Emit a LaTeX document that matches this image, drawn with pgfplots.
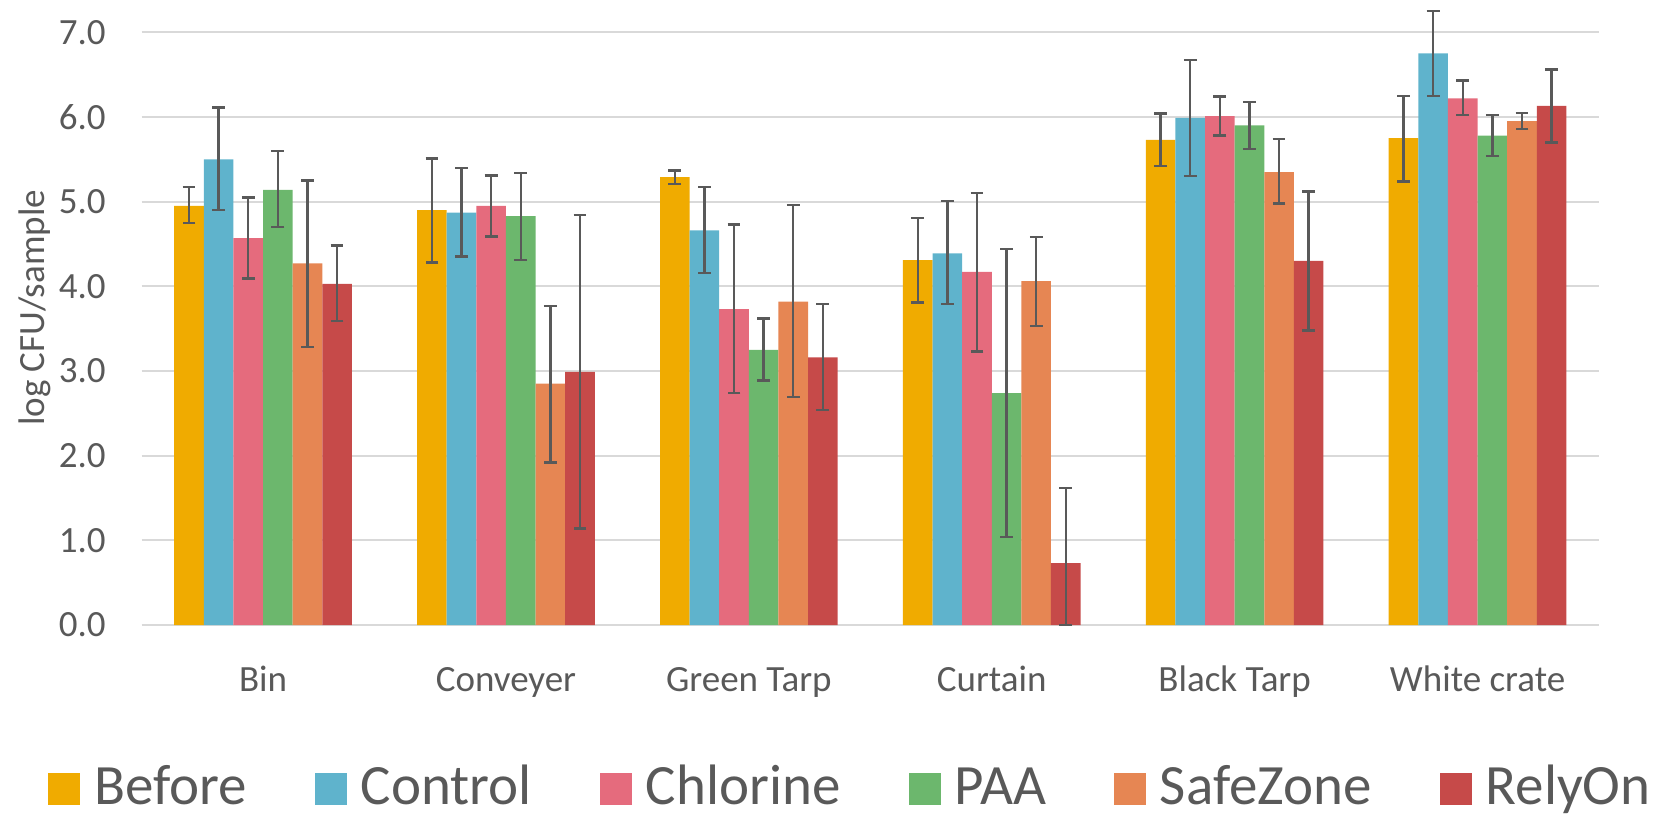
\documentclass[border=0pt]{standalone}
\usepackage{fontspec}
\setmainfont{Carlito}
\usepackage{pgfplots}
\usepackage{pgfplotstable}
\pgfplotsset{compat=1.18}
\definecolor{cBefore}{RGB}{240,171,0}
\definecolor{cControl}{RGB}{95,179,204}
\definecolor{cChlorine}{RGB}{229,107,125}
\definecolor{cPAA}{RGB}{108,183,109}
\definecolor{cSafeZone}{RGB}{230,134,83}
\definecolor{cRelyOn}{RGB}{198,74,73}
\definecolor{txtgray}{RGB}{89,89,89}
\definecolor{gridgray}{RGB}{217,217,217}
\definecolor{errgray}{RGB}{89,89,89}

\pgfplotstableread{
x y ep em
0 4.95 0.22 0.20
1 4.90 0.61 0.62
2 5.29 0.08 0.08
3 4.31 0.50 0.50
4 5.73 0.31 0.31
5 5.75 0.50 0.51
}\tBefore
\pgfplotstableread{
x y ep em
0 5.50 0.61 0.60
1 4.87 0.53 0.52
2 4.66 0.51 0.50
3 4.39 0.62 0.60
4 5.99 0.68 0.69
5 6.75 0.50 0.50
}\tControl
\pgfplotstableread{
x y ep em
0 4.57 0.48 0.48
1 4.95 0.36 0.36
2 3.73 1.00 0.99
3 4.17 0.93 0.94
4 6.01 0.23 0.23
5 6.22 0.21 0.20
}\tChlorine
\pgfplotstableread{
x y ep em
0 5.14 0.46 0.44
1 4.83 0.51 0.52
2 3.25 0.37 0.36
3 2.74 1.70 1.70
4 5.90 0.28 0.28
5 5.78 0.24 0.24
}\tPAA
\pgfplotstableread{
x y ep em
0 4.27 0.98 0.99
1 2.85 0.92 0.93
2 3.82 1.14 1.13
3 4.06 0.52 0.53
4 5.35 0.39 0.37
5 5.95 0.10 0.09
}\tSafeZone
\pgfplotstableread{
x y ep em
0 4.03 0.45 0.44
1 2.99 1.85 1.85
2 3.16 0.63 0.62
3 0.73 0.89 0.73
4 4.30 0.82 0.82
5 6.13 0.43 0.43
}\tRelyOn

\pgfplotsset{
  errs/.style={error bars/.cd, y dir=both, y explicit,
    error bar style={line width=1.2pt, draw=errgray, solid},
    error mark options={rotate=90, line width=1.2pt, mark size=3.2pt, draw=errgray, solid}},
  sqleg/.style={legend image code/.code={\fill[##1] (0pt,0pt) rectangle (16pt,16pt);}},
}

\begin{document}
\begin{tikzpicture}
\useasboundingbox (-70.8pt,-97pt) rectangle (764.2pt,312.5pt);
\begin{axis}[
  scale only axis, width=728.7pt, height=296.35pt,
  xmin=-0.5, xmax=5.5, ymin=0, ymax=7,
  ytick={0,1,2,3,4,5,6,7},
  xtick={0,1,2,3,4,5},
  xticklabels={Bin,Conveyer,Green Tarp,Curtain,Black Tarp,White crate},
  axis line style={draw=none}, major tick length=0pt, tick style={draw=none},
  ymajorgrids, grid style={draw=gridgray, line width=1pt},
  ybar=0pt, bar width=0.1219,
  clip=false,
  font=\fontsize{18}{21.6}\selectfont,
  tick label style={text=txtgray, font=\fontsize{18.5}{22}\selectfont},
  /pgf/number format/assume math mode=true,
  yticklabel style={/pgf/number format/.cd, fixed, fixed zerofill, precision=1, /tikz/.cd, anchor=east, inner sep=0pt, xshift=-17.8pt},
  xticklabel style={anchor=base, inner sep=0pt, yshift=-33pt},
  ylabel={log CFU/sample},
  every axis y label/.style={at={(axis description cs:-0.0735,0.535)}, rotate=90, anchor=center, text=txtgray, font=\fontsize{18.5}{22}\selectfont},
  legend columns=6,
  legend style={at={(0.4857,-0.2726)}, anchor=center, draw=none, fill=none,
    font=\fontsize{28.5}{34}\selectfont, text=txtgray, inner sep=0pt,
    nodes={inner sep=0pt, anchor=base west},
    column sep=7pt, /tikz/every even column/.append style={column sep=34pt}},
]
\addplot[fill=cBefore, draw=none, bar shift=-0.30475, sqleg, errs] table[x=x, y=y, y error plus=ep, y error minus=em]{\tBefore};
\addplot[fill=cControl, draw=none, bar shift=-0.18285, sqleg, errs] table[x=x, y=y, y error plus=ep, y error minus=em]{\tControl};
\addplot[fill=cChlorine, draw=none, bar shift=-0.06095, sqleg, errs] table[x=x, y=y, y error plus=ep, y error minus=em]{\tChlorine};
\addplot[fill=cPAA, draw=none, bar shift=0.06095, sqleg, errs] table[x=x, y=y, y error plus=ep, y error minus=em]{\tPAA};
\addplot[fill=cSafeZone, draw=none, bar shift=0.18285, sqleg, errs] table[x=x, y=y, y error plus=ep, y error minus=em]{\tSafeZone};
\addplot[fill=cRelyOn, draw=none, bar shift=0.30475, sqleg, errs] table[x=x, y=y, y error plus=ep, y error minus=em]{\tRelyOn};
\legend{Before,Control,Chlorine,PAA,SafeZone,RelyOn}
\end{axis}
\end{tikzpicture}
\end{document}
